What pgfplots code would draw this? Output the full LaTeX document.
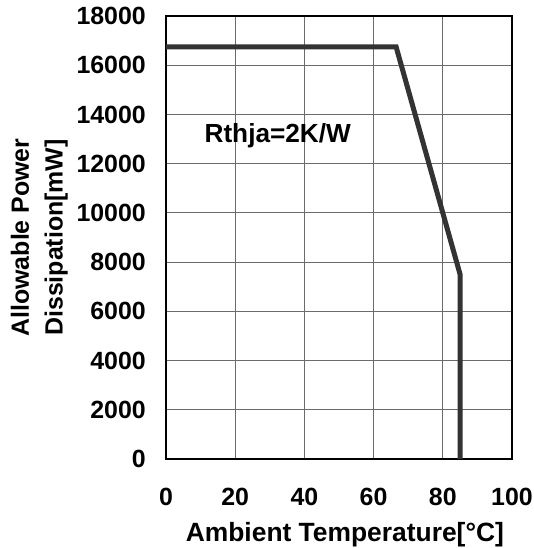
\documentclass[border=0pt]{standalone}
\usepackage{pgfplots}
\pgfplotsset{compat=1.18}
\usepackage{fontspec}
\setmainfont{Liberation Sans}
\begin{document}
\begin{tikzpicture}
\begin{axis}[
  name=ax,
  scale only axis,
  width=346bp, height=443bp,
  xmin=0, xmax=100, ymin=0, ymax=18000,
  xtick={0,20,40,60,80,100},
  ytick={0,2000,4000,6000,8000,10000,12000,14000,16000,18000},
  scaled y ticks=false,
  /pgf/number format/1000 sep={},
  /pgf/number format/assume math mode=true,
  major tick length=0pt,
  grid=major,
  major grid style={draw=black!58, line width=1bp},
  axis line style={black, line width=1.6bp},
  ticklabel style={font=\fontsize{25}{30}\selectfont\bfseries},
  yticklabel style={anchor=east, inner sep=0pt, xshift=-20bp},
  xticklabel style={anchor=north, inner sep=0pt, yshift=-29bp},
  xlabel={Ambient Temperature[°C]},
  xlabel style={at={(axis description cs:0.517,0)}, anchor=north, inner sep=0pt, yshift=-63bp, font=\fontsize{26.5}{30}\selectfont\bfseries},
  ylabel={Allowable Power\\Dissipation[mW]},
  ylabel style={at={([xshift=-98bp]axis description cs:0,0.5)}, anchor=south, rotate=0, inner sep=0pt, align=center, font=\fontsize{25}{34}\selectfont\bfseries},
]
\addplot[draw={rgb,255:red,51;green,51;blue,51}, line width=5bp, line join=miter] coordinates {
  (0,16750) (66.5,16750) (85,7500) (85,0)
};
\node[anchor=base west, inner sep=0pt, font=\fontsize{26.3}{30}\selectfont\bfseries] at (axis cs:11.1,12850) {Rthja=2K/W};
\end{axis}
\path ([xshift=-166bp,yshift=-89bp]ax.south west) rectangle ([xshift=22bp,yshift=16bp]ax.north east);
\end{tikzpicture}
\end{document}
